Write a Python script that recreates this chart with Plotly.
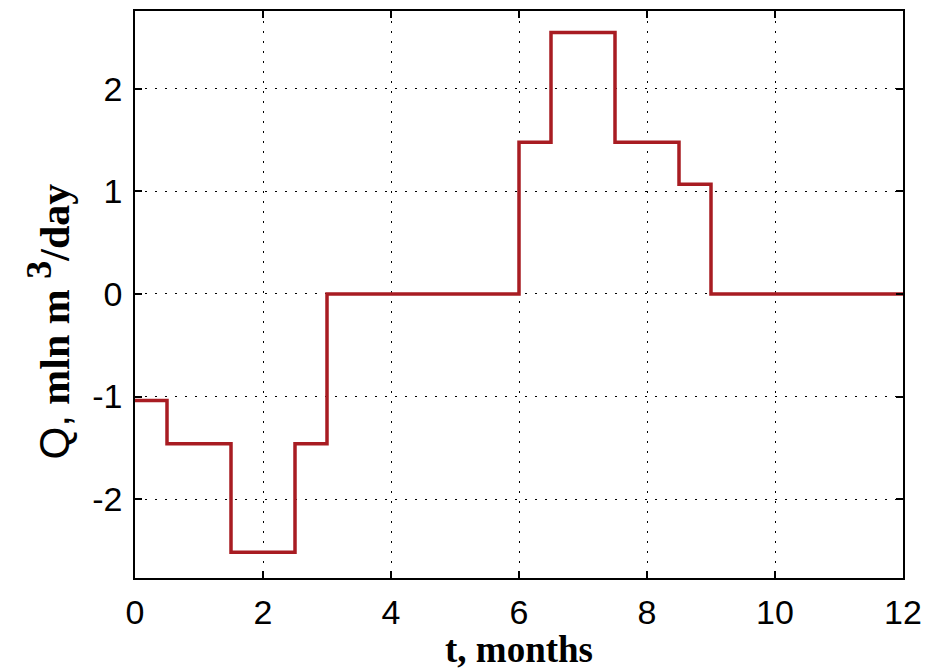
import plotly.graph_objects as go

# Piecewise-constant flow rate schedule (months -> mln m^3/day)
t_edges = [0, 0.5, 1.5, 2.5, 3, 6, 6.5, 7.5, 8.5, 9, 12]
q_levels = [-1.04, -1.46, -2.52, -1.46, 0, 1.48, 2.55, 1.48, 1.07, 0]

x_ticks = [0, 2, 4, 6, 8, 10, 12]
y_ticks = [-2, -1, 0, 1, 2]
y_tick_text = ["-2", "-1", "0", "1", "2"]

# step trace: repeat last level so the final segment reaches t=12
xs = t_edges
ys = q_levels + [q_levels[-1]]

fig = go.Figure()
fig.add_trace(go.Scatter(
    x=xs, y=ys, mode="lines",
    line=dict(shape="hv", color="#a81c22", width=3.5),
    showlegend=False,
))

axis_common = dict(
    showline=True, linecolor="black", linewidth=1.5, mirror="allticks",
    ticks="inside", ticklen=7, tickcolor="black", tickwidth=1.5,
    showgrid=True, gridcolor="black", griddash="2px,8px", gridwidth=1.3,
    zeroline=False, automargin=False,
    tickfont=dict(family="Liberation Sans, Arial", size=34, color="black"),
)

fig.update_xaxes(range=[0, 12], tickvals=x_ticks, ticklabelstandoff=3, **axis_common)
fig.update_yaxes(range=[-2.77, 2.76], tickvals=y_ticks, ticktext=y_tick_text,
                 ticklabelstandoff=4, **axis_common)

plot_h = 672 - 11 - 94

fig.add_annotation(
    text="<b>t, months</b>", xref="paper", yref="paper",
    x=0.5, y=-94 / plot_h, yanchor="bottom", showarrow=False,
    font=dict(family="Liberation Serif, Times New Roman", size=37, color="black"),
)
fig.add_annotation(
    text="<span style='font-family:Liberation Sans;font-size:42px'>Q,</span>"
         " <b>mln m <sup><span style='font-size:36px'>3</span></sup>/day</b>",
    xref="paper", yref="paper", x=0, y=0.5, xanchor="center", yanchor="middle",
    xshift=-86, yshift=-27, textangle=-90, showarrow=False,
    font=dict(family="Liberation Serif, Times New Roman", size=42, color="black"),
)

fig.update_layout(
    width=927, height=672,
    margin=dict(l=135, r=24, t=11, b=94),
    paper_bgcolor="white", plot_bgcolor="white",
)

fig.write_html("out.html")
